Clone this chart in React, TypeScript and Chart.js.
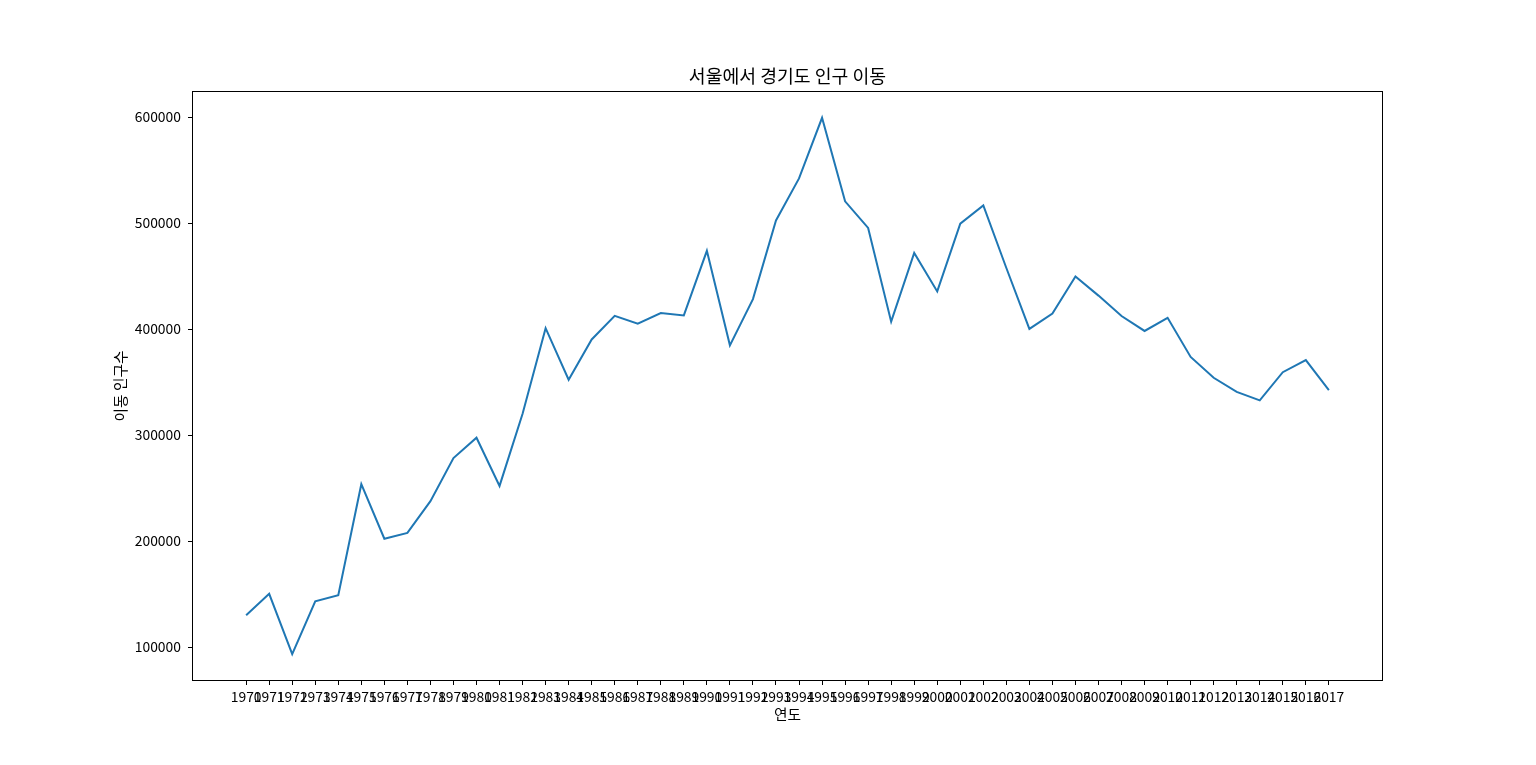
import React, { useEffect, useRef } from "react";
import { Chart, registerables } from "chart.js";

Chart.register(...registerables);

const years = [
  1970, 1971, 1972, 1973, 1974, 1975, 1976, 1977, 1978, 1979,
  1980, 1981, 1982, 1983, 1984, 1985, 1986, 1987, 1988, 1989,
  1990, 1991, 1992, 1993, 1994, 1995, 1996, 1997, 1998, 1999,
  2000, 2001, 2002, 2003, 2004, 2005, 2006, 2007, 2008, 2009,
  2010, 2011, 2012, 2013, 2014, 2015, 2016, 2017,
];

const moves = [
  130149, 150313, 93333, 143234, 149045, 253705, 202276, 207722, 237684, 278411,
  297539, 252073, 320174, 400875, 352238, 390265, 412535, 405220, 415174, 412933,
  473889, 384714, 428344, 502584, 542204, 599411, 520566, 495454, 407050, 471841,
  435573, 499575, 516765, 457656, 400206, 414621, 449632, 431637, 412408, 398282,
  410735, 373771, 354135, 340801, 332785, 359337, 370760, 342433,
];

const yTicks = [100000, 200000, 300000, 400000, 500000, 600000];

const TITLE = "서울에서 경기도 인구 이동";
const X_LABEL = "연도";
const Y_LABEL = "이동 인구수";

const FONT = "'Noto Sans CJK KR', 'Noto Sans', sans-serif";

export default function App() {
  const ref = useRef<HTMLCanvasElement | null>(null);

  useEffect(() => {
    if (!ref.current) return;
    const yMin = Math.min(...moves);
    const yMax = Math.max(...moves);
    const yPad = (yMax - yMin) * 0.05;
    const xMin = years[0];
    const xMax = years[years.length - 1];
    const xPad = (xMax - xMin) * 0.05;

    const frame = {
      id: "frame",
      afterDraw(chart: any) {
        const { ctx, chartArea } = chart;
        ctx.save();
        ctx.strokeStyle = "#000";
        ctx.lineWidth = 1;
        ctx.strokeRect(
          Math.round(chartArea.left) + 0.5,
          Math.round(chartArea.top) + 0.5,
          Math.round(chartArea.right - chartArea.left) - 1,
          Math.round(chartArea.bottom - chartArea.top) - 1
        );
        ctx.restore();
      },
    };

    Chart.defaults.color = "#000";
    Chart.defaults.font.family = FONT;

    const chart = new Chart(ref.current, {
      type: "line",
      data: {
        datasets: [
          {
            data: years.map((y, i) => ({ x: y, y: moves[i] })),
            borderColor: "#1f77b4",
            borderWidth: 2,
            pointRadius: 0,
            tension: 0,
            fill: false,
          },
        ],
      },
      options: {
        responsive: false,
        animation: false,
        devicePixelRatio: 1,
        layout: { padding: { left: 0, right: 153, top: 0, bottom: 0 } },
        plugins: {
          legend: { display: false },
          tooltip: { enabled: false },
          title: {
            display: true,
            text: TITLE,
            fullSize: false,
            color: "#000",
            font: { size: 18.3, weight: "normal", family: FONT, lineHeight: 1.2 },
            padding: { top: 65, bottom: 4 },
          },
        },
        scales: {
          x: {
            type: "linear",
            min: xMin - xPad,
            max: xMax + xPad,
            afterBuildTicks: (s: any) => {
              s.ticks = years.map((v) => ({ value: v }));
            },
            afterFit: (s: any) => {
              s.height = 84;
            },
            ticks: {
              autoSkip: false,
              maxRotation: 0,
              minRotation: 0,
              padding: 3,
              color: "#000",
              font: { size: 13.9, family: FONT },
              callback: (v: any) => String(v),
            },
            grid: {
              display: true,
              drawOnChartArea: false,
              drawTicks: true,
              tickLength: 4,
              tickColor: "#000",
              tickWidth: 1,
            },
            border: { display: false },
            title: {
              display: true,
              text: X_LABEL,
              color: "#000",
              font: { size: 14.7, family: FONT, lineHeight: 1.2 },
              padding: { top: 0, bottom: 42 },
            },
          },
          y: {
            type: "linear",
            min: yMin - yPad,
            max: yMax + yPad,
            afterBuildTicks: (s: any) => {
              s.ticks = yTicks.map((v) => ({ value: v }));
            },
            afterFit: (s: any) => {
              s.width = 192;
            },
            ticks: {
              padding: 7,
              color: "#000",
              font: { size: 13.9, family: FONT },
              callback: (v: any) => String(v),
            },
            grid: {
              display: true,
              drawOnChartArea: false,
              drawTicks: true,
              tickLength: 4,
              tickColor: "#000",
              tickWidth: 1,
            },
            border: { display: false },
            title: {
              display: true,
              text: Y_LABEL,
              color: "#000",
              font: { size: 14.7, family: FONT, lineHeight: 1.2 },
              padding: { top: 112, bottom: 0 },
            },
          },
        },
      },
      plugins: [frame],
    } as any);

    return () => chart.destroy();
  }, []);

  return (
    <div style={{ position: "fixed", left: 0, top: 0, width: 1536, height: 765, background: "#fff" }}>
      <canvas ref={ref} width={1536} height={765} style={{ width: 1536, height: 765, display: "block" }} />
    </div>
  );
}
